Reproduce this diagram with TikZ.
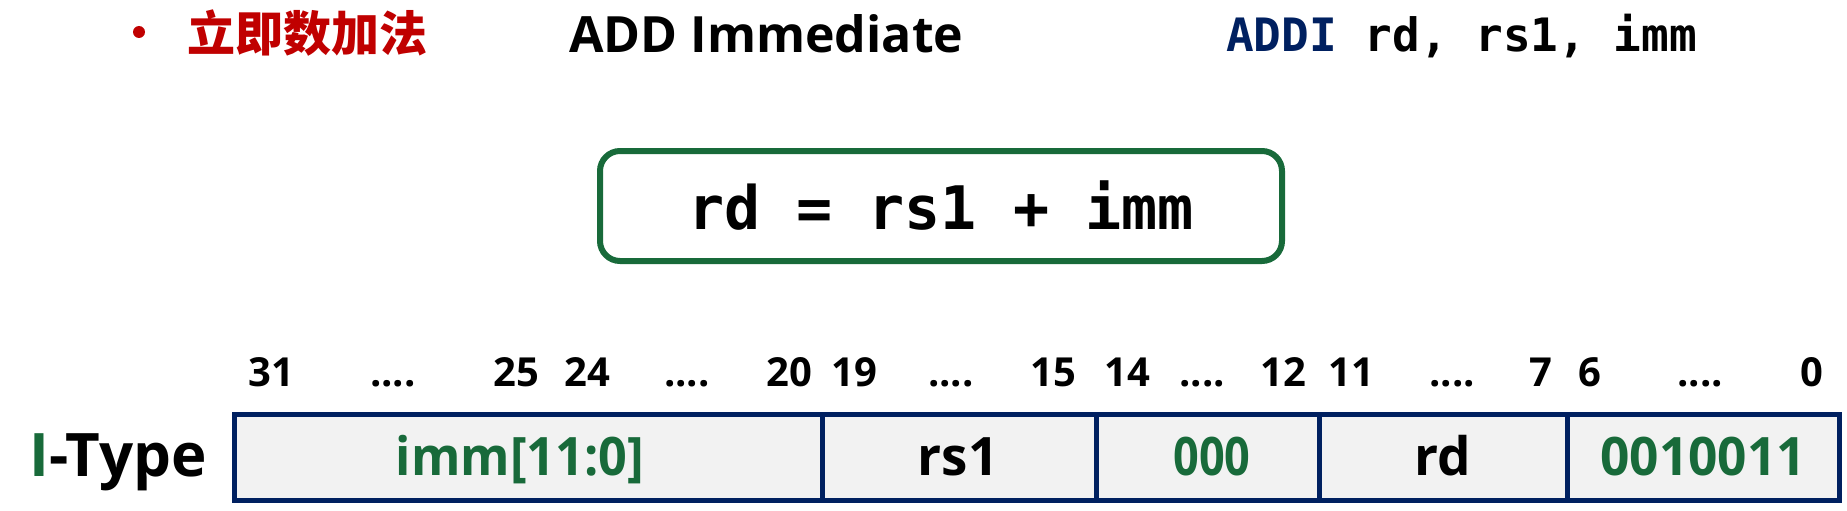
\documentclass[tikz,border=0pt]{standalone}
\usepackage{fontspec}
\setmainfont{Open Sans}[BoldFont={Open Sans Bold}]
\newfontfamily\narrowdig{Open Sans}[BoldFont={Open Sans Bold},FakeStretch=0.85]
\newfontfamily\opdig{Open Sans}[BoldFont={Open Sans Bold},FakeStretch=0.97]
\newfontfamily\narrowtxt{Open Sans}[BoldFont={Open Sans Bold},FakeStretch=0.95]
\newfontfamily\cjk{Noto Sans CJK SC}
\newfontfamily\mono{DejaVu Sans Mono}[BoldFont={DejaVu Sans Mono Bold}]
\definecolor{hdred}{RGB}{192,0,0}
\definecolor{navy}{RGB}{0,32,96}
\definecolor{dkgreen}{RGB}{24,106,58}
\definecolor{cellgray}{RGB}{242,242,242}
\begin{document}
\begin{tikzpicture}[x=1pt,y=-1pt,
  bitnum/.style={anchor=base,inner sep=0pt,font=\fontsize{40}{44}\selectfont\bfseries},
  cell/.style={draw=navy,fill=cellgray,line width=5pt,minimum height=86pt,inner sep=0pt},
  celltext/.style={anchor=base,inner sep=0pt,font=\fontsize{53}{58}\selectfont\bfseries},
  eqbox/.style={draw=dkgreen,line width=6pt,rounded corners=20pt,minimum width=682pt,
    minimum height=110pt,inner sep=0pt,text height=46pt,text depth=0pt,
    font=\fontsize{60}{66}\selectfont\mono\bfseries}]
\useasboundingbox (0,0) rectangle (1847,511);
% header
\node[circle,fill=hdred,minimum size=12pt,inner sep=0pt] (bullet) at (139,32) {};
\node[inner sep=0pt,text=hdred,font=\fontsize{48}{52}\selectfont\cjk\bfseries] (title) at (307,33) {立即数加法};
\node[anchor=base west,inner sep=0pt,font=\fontsize{50}{55}\selectfont\bfseries] (eng) at (569,53) {ADD Immediate};
\node[anchor=base west,inner sep=0pt,font=\fontsize{46}{50}\selectfont\mono\bfseries] (asm) at (1226,52) {\textcolor{navy}{ADDI} rd, rs1, imm};
% equation
\node[eqbox] (eq) at (941,206) {rd = rs1 + imm};
% bit numbers
\node[bitnum] (b31) at (271,386) {31};
\node[bitnum] (d1) at (393,386) {....};
\node[bitnum] (b25) at (516,386) {25};
\node[bitnum] (b24) at (587,386) {24};
\node[bitnum] (d2) at (687,386) {....};
\node[bitnum] (b20) at (789,386) {20};
\node[bitnum] (b19) at (854,386) {19};
\node[bitnum] (d3) at (951,386) {....};
\node[bitnum] (b15) at (1053,386) {15};
\node[bitnum] (b14) at (1127,386) {14};
\node[bitnum] (d4) at (1202,386) {....};
\node[bitnum] (b12) at (1283,386) {12};
\node[bitnum] (b11) at (1351,386) {11};
\node[bitnum] (d5) at (1452,386) {....};
\node[bitnum] (b7) at (1541,386) {7};
\node[bitnum] (b6) at (1590,386) {6};
\node[bitnum] (d6) at (1700,386) {....};
\node[bitnum] (b0) at (1812,386) {0};
% type label
\node[anchor=base west,inner sep=0pt,font=\fontsize{60}{66}\selectfont\bfseries] (itype) at (29,476) {\textcolor{dkgreen}{I}-Type};
% cells
\node[cell,minimum width=587.5pt] (imm) at (528.25,457.5) {};
\node[cell,minimum width=274.5pt] (rs1) at (959.25,457.5) {};
\node[cell,minimum width=223pt] (f3) at (1208,457.5) {};
\node[cell,minimum width=248pt] (rd) at (1443.5,457.5) {};
\node[cell,minimum width=272pt] (op) at (1703.5,457.5) {};
\node[celltext,text=dkgreen,font=\fontsize{53}{58}\selectfont\narrowtxt\bfseries] (immt) at (520,475) {imm[11:0]};
\node[celltext] (rs1t) at (958,475) {rs1};
\node[celltext,text=dkgreen,font=\fontsize{53}{58}\selectfont\narrowdig\bfseries] (f3t) at (1212,475) {000};
\node[celltext] (rdt) at (1443,475) {rd};
\node[celltext,text=dkgreen,font=\fontsize{53}{58}\selectfont\opdig\bfseries] (opt) at (1703,475) {0010011};
\end{tikzpicture}
\end{document}
